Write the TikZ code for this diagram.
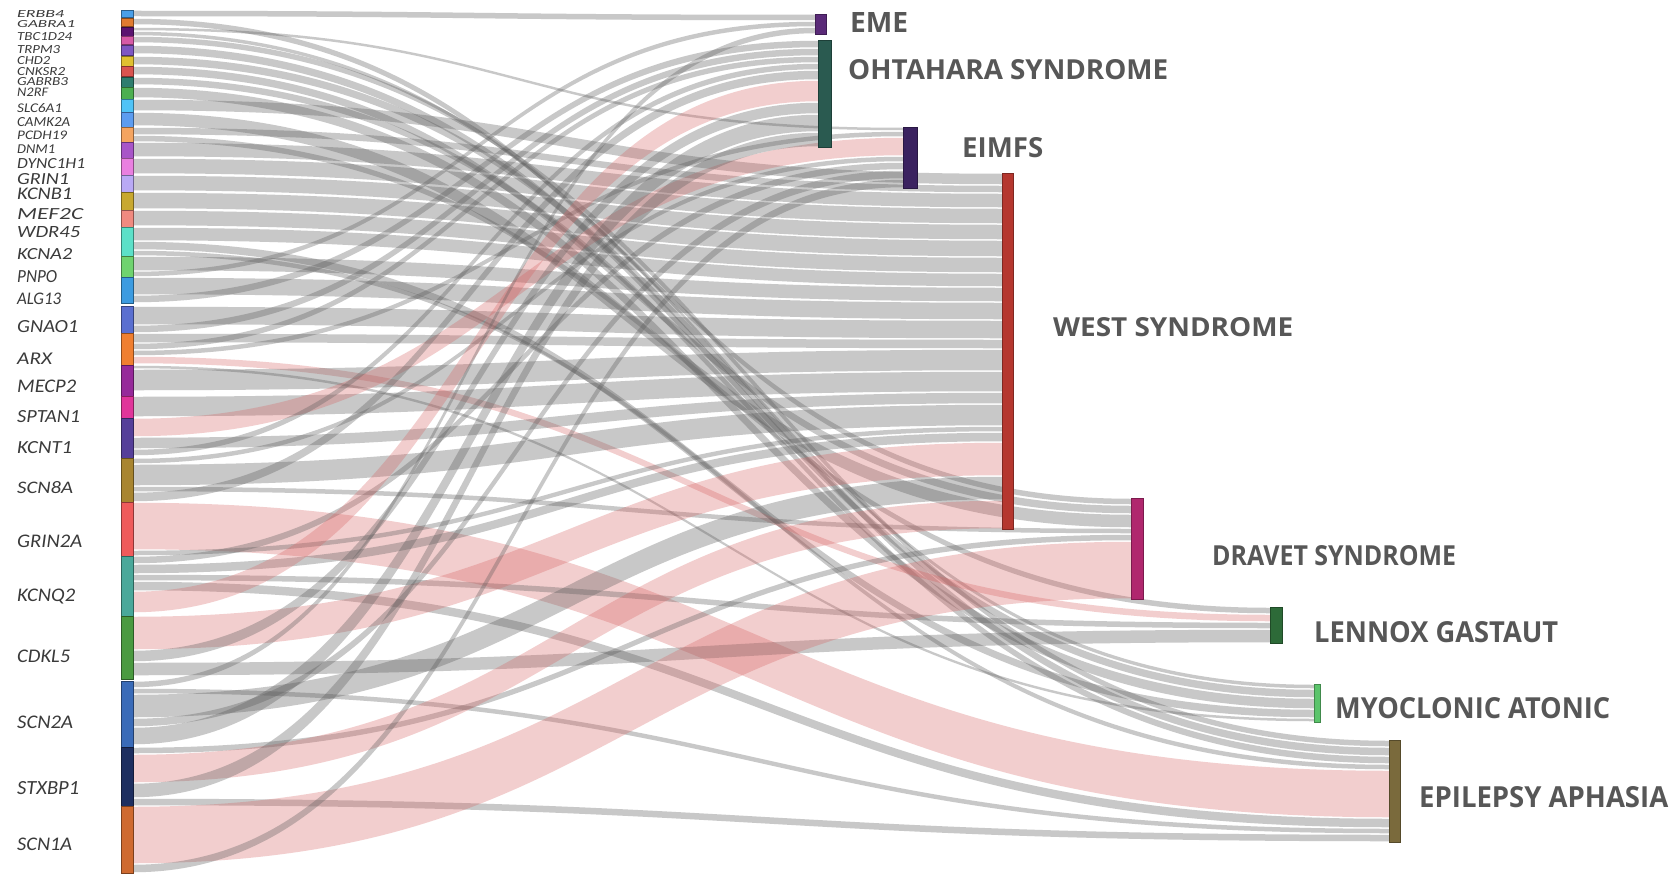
\documentclass[tikz,border=0pt]{standalone}
\usepackage{fontspec}
\usetikzlibrary{calc}
\newfontfamily\genefont{Carlito}
\newfontfamily\tgtfont{Open Sans}
\pgfdeclarelayer{bands}
\pgfsetlayers{bands,main}

% gene colours
\definecolor{cERBB4}{HTML}{4A9FE8}
\definecolor{cGABRA1}{HTML}{E07B30}
\definecolor{cTBC1D24}{HTML}{5B1470}
\definecolor{cTRPM3}{HTML}{D65AA6}
\definecolor{cCHD2}{HTML}{7E57C2}
\definecolor{cCNKSR2}{HTML}{E0C030}
\definecolor{cGABRB3}{HTML}{D9534F}
\definecolor{cN2RF}{HTML}{2E7D6E}
\definecolor{cSLC6A1}{HTML}{4CAF50}
\definecolor{cCAMK2A}{HTML}{4FC3F7}
\definecolor{cPCDH19}{HTML}{5C9CF0}
\definecolor{cDNM1}{HTML}{F4A460}
\definecolor{cDYNC1H1}{HTML}{A855C8}
\definecolor{cGRIN1}{HTML}{E97FE0}
\definecolor{cKCNB1}{HTML}{B9A9F5}
\definecolor{cMEF2C}{HTML}{C8A830}
\definecolor{cWDR45}{HTML}{F08A80}
\definecolor{cKCNA2}{HTML}{5CE0C8}
\definecolor{cPNPO}{HTML}{6FD36F}
\definecolor{cALG13}{HTML}{3C9BE0}
\definecolor{cGNAO1}{HTML}{5A6FD0}
\definecolor{cARX}{HTML}{F07F30}
\definecolor{cMECP2}{HTML}{962A9A}
\definecolor{cSPTAN1}{HTML}{E0359A}
\definecolor{cKCNT1}{HTML}{553F99}
\definecolor{cSCN8A}{HTML}{A88530}
\definecolor{cGRIN2A}{HTML}{EF5B5B}
\definecolor{cKCNQ2}{HTML}{4AA89A}
\definecolor{cCDKL5}{HTML}{4A9A40}
\definecolor{cSCN2A}{HTML}{3A6BB8}
\definecolor{cSTXBP1}{HTML}{1E2F60}
\definecolor{cSCN1A}{HTML}{CF6A30}
% syndrome colours
\definecolor{cEME}{HTML}{5A2A78}
\definecolor{cOHT}{HTML}{2A5A50}
\definecolor{cEIMFS}{HTML}{3B2260}
\definecolor{cWEST}{HTML}{B5372F}
\definecolor{cDRAVET}{HTML}{B0276E}
\definecolor{cLGS}{HTML}{2D6A38}
\definecolor{cMAE}{HTML}{5BC46B}
\definecolor{cEAP}{HTML}{7A6A3C}
% bands and text
\definecolor{bandgray}{RGB}{90,90,90}
\definecolor{bandpink}{RGB}{215,95,95}
\definecolor{labelgray}{HTML}{3A3A3A}
\definecolor{titlegray}{HTML}{575757}

\tikzset{
  gbar/.style={rectangle, minimum width=12pt, inner sep=0pt, outer sep=0pt, line width=0.6pt},
  tbar/.style={rectangle, inner sep=0pt, outer sep=0pt, line width=0.8pt},
  glabel/.style={anchor=base west, inner sep=0pt, text=labelgray, font=\genefont\itshape},
  tlabel/.style={anchor=base west, inner sep=0pt, text=titlegray, font=\tgtfont\bfseries},
  grayband/.style={fill=bandgray, fill opacity=0.33},
  pinkband/.style={fill=bandpink, fill opacity=0.3}
}

% gene bar with its label: name, top, height, colour, label baseline, label width, label height
\newcommand\gene[7]{%
  \node[gbar, fill=#4, draw=#4!60!black, minimum height=#3pt, anchor=north west] (#1) at (121,#2) {};
  \node[glabel] (#1-name) at (17,#5) {\resizebox{#6pt}{#7pt}{#1}};
  \expandafter\xdef\csname oS#1\endcsname{0}}

% syndrome bar: name, left, top, width, height, colour
\newcommand\tgt[6]{%
  \node[tbar, fill=#6, draw=#6!70!black, minimum width=#4pt, minimum height=#5pt, anchor=north west] (#1) at (#2,#3) {};
  \expandafter\xdef\csname oT#1\endcsname{0}}

% flow band from a gene bar to a syndrome bar, stacked on both ends
\newcommand\lk[4]{%
  \edef\sA{\csname oS#1\endcsname}%
  \edef\tA{\csname oT#2\endcsname}%
  \pgfmathsetmacro\sB{\sA+#3}%
  \pgfmathsetmacro\tB{\tA+#3}%
  \expandafter\xdef\csname oS#1\endcsname{\sB}%
  \expandafter\xdef\csname oT#2\endcsname{\tB}%
  \pgfmathsetmacro\su{\sA+0.75}\pgfmathsetmacro\sd{\sB-0.75}%
  \pgfmathsetmacro\tu{\tA+0.75}\pgfmathsetmacro\td{\tB-0.75}%
  \path ([yshift=-\su pt]#1.north east) coordinate (u1)
        ([yshift=-\sd pt]#1.north east) coordinate (d1)
        ([yshift=-\tu pt]#2.north west) coordinate (u2)
        ([yshift=-\td pt]#2.north west) coordinate (d2)
        ($(u1)!0.5!(u2)$) coordinate (mm);
  \fill[#4] (u1) .. controls (mm |- u1) and (mm |- u2) .. (u2)
     -- (d2) .. controls (mm |- d2) and (mm |- d1) .. (d1) -- cycle;}

\begin{document}
\begin{tikzpicture}[x=1pt,y=-1pt]
\useasboundingbox (0,0) rectangle (1675,875);

% genes
\gene{ERBB4}{10}{7}{cERBB4}{18}{47}{7}
\gene{GABRA1}{18}{8}{cGABRA1}{28}{58}{7}
\gene{TBC1D24}{27}{9}{cTBC1D24}{40.5}{55}{8}
\gene{TRPM3}{36}{8}{cTRPM3}{53}{43}{8}
\gene{CHD2}{45}{10}{cCHD2}{64}{33}{8}
\gene{CNKSR2}{56}{10}{cCNKSR2}{75}{48}{8}
\gene{GABRB3}{66}{10}{cGABRB3}{85.5}{51}{8}
\gene{N2RF}{77}{10}{cN2RF}{96.5}{31}{8.5}
\gene{SLC6A1}{87}{12}{cSLC6A1}{112}{45}{9}
\gene{CAMK2A}{99}{13}{cCAMK2A}{126}{53}{9}
\gene{PCDH19}{112}{15}{cPCDH19}{139}{50}{8.5}
\gene{DNM1}{127}{15}{cDNM1}{153}{38}{8.7}
\gene{DYNC1H1}{142}{16}{cDYNC1H1}{168}{68}{10}
\gene{GRIN1}{158}{17}{cGRIN1}{184}{52}{11}
\gene{KCNB1}{175}{17}{cKCNB1}{199.5}{55}{11.5}
\gene{MEF2C}{192}{18}{cMEF2C}{219}{66}{11}
\gene{WDR45}{210}{17}{cWDR45}{237}{63}{11}
\gene{KCNA2}{227}{29}{cKCNA2}{259}{55}{11}
\gene{PNPO}{256}{21}{cPNPO}{282}{40}{12}
\gene{ALG13}{277}{26}{cALG13}{304}{44}{11.5}
\gene{GNAO1}{306}{27}{cGNAO1}{332}{61}{12}
\gene{ARX}{333}{32}{cARX}{364}{35}{11.5}
\gene{MECP2}{365}{31}{cMECP2}{392}{59}{12.5}
\gene{SPTAN1}{396}{22}{cSPTAN1}{422}{63}{12}
\gene{KCNT1}{418}{40}{cKCNT1}{453}{55}{12}
\gene{SCN8A}{458}{44}{cSCN8A}{493}{56}{12}
\gene{GRIN2A}{502}{54}{cGRIN2A}{547}{65}{12.5}
\gene{KCNQ2}{556}{60}{cKCNQ2}{601}{58}{12.5}
\gene{CDKL5}{616}{63}{cCDKL5}{662}{53}{12.5}
\gene{SCN2A}{681}{66}{cSCN2A}{728}{56}{12.5}
\gene{STXBP1}{747}{59}{cSTXBP1}{794}{62}{13}
\gene{SCN1A}{806}{67}{cSCN1A}{850}{55}{12.5}

% syndromes
\tgt{EME}{815}{14}{11}{20}{cEME}
\tgt{OHT}{818}{40}{13}{107}{cOHT}
\tgt{EIMFS}{903}{127}{14}{61}{cEIMFS}
\tgt{WEST}{1002}{173}{11}{356}{cWEST}
\tgt{DRAVET}{1131}{498}{12}{101}{cDRAVET}
\tgt{LGS}{1270}{607}{12}{36}{cLGS}
\tgt{MAE}{1314}{684}{6}{38}{cMAE}
\tgt{EAP}{1389}{740}{11}{102}{cEAP}

\node[tlabel] (EME-name) at (850,33) {\resizebox{58pt}{20pt}{EME}};
\node[tlabel] (OHT-name) at (848,80) {\resizebox{320pt}{20pt}{OHTAHARA SYNDROME}};
\node[tlabel] (EIMFS-name) at (962,157) {\resizebox{81pt}{20pt}{EIMFS}};
\node[tlabel] (WEST-name) at (1053,336) {\resizebox{240pt}{19pt}{WEST SYNDROME}};
\node[tlabel] (DRAVET-name) at (1212,565) {\resizebox{244pt}{20pt}{DRAVET SYNDROME}};
\node[tlabel] (LGS-name) at (1314,642) {\resizebox{244pt}{21pt}{LENNOX GASTAUT}};
\node[tlabel] (MAE-name) at (1335,718) {\resizebox{275pt}{21pt}{MYOCLONIC ATONIC}};
\node[tlabel] (EAP-name) at (1419,807) {\resizebox{249pt}{21pt}{EPILEPSY APHASIA}};

\begin{pgfonlayer}{bands}
\fill[white] (0,0) rectangle (1675,875);
\lk{ERBB4}{EME}{7}{grayband}
\lk{GABRA1}{DRAVET}{7}{grayband}
\lk{TBC1D24}{EIMFS}{4}{grayband}
\lk{TBC1D24}{MAE}{5}{grayband}
\lk{TRPM3}{EAP}{7}{grayband}
\lk{CHD2}{MAE}{9}{grayband}
\lk{CNKSR2}{EAP}{9}{grayband}
\lk{GABRB3}{DRAVET}{9}{grayband}
\lk{N2RF}{EAP}{8}{grayband}
\lk{SLC6A1}{MAE}{11}{grayband}
\lk{CAMK2A}{WEST}{12}{grayband}
\lk{PCDH19}{DRAVET}{14}{grayband}
\lk{DNM1}{WEST}{8}{grayband}
\lk{DNM1}{LGS}{7}{grayband}
\lk{DYNC1H1}{WEST}{15}{grayband}
\lk{GRIN1}{WEST}{16}{grayband}
\lk{KCNB1}{WEST}{16}{grayband}
\lk{MEF2C}{WEST}{17}{grayband}
\lk{WDR45}{WEST}{16}{grayband}
\lk{KCNA2}{WEST}{14}{grayband}
\lk{KCNA2}{MAE}{9}{grayband}
\lk{KCNA2}{EAP}{6}{grayband}
\lk{PNPO}{WEST}{15}{grayband}
\lk{PNPO}{EME}{6}{grayband}
\lk{ALG13}{WEST}{18}{grayband}
\lk{ALG13}{OHT}{8}{grayband}
\lk{GNAO1}{WEST}{19}{grayband}
\lk{GNAO1}{OHT}{8}{grayband}
\lk{ARX}{WEST}{10}{grayband}
\lk{ARX}{OHT}{7}{grayband}
\lk{ARX}{EIMFS}{6}{grayband}
\lk{ARX}{LGS}{8}{pinkband}
\lk{MECP2}{MAE}{4}{grayband}
\lk{MECP2}{WEST}{22}{grayband}
\lk{SPTAN1}{WEST}{21}{grayband}
\lk{KCNT1}{EIMFS}{19}{pinkband}
\lk{KCNT1}{WEST}{12}{grayband}
\lk{KCNT1}{OHT}{7}{grayband}
\lk{SCN8A}{EIMFS}{6}{grayband}
\lk{SCN8A}{WEST}{22}{grayband}
\lk{SCN8A}{DRAVET}{6}{grayband}
\lk{SCN8A}{OHT}{10}{grayband}
\lk{GRIN2A}{EAP}{48}{pinkband}
\lk{GRIN2A}{WEST}{6}{grayband}
\lk{KCNQ2}{EIMFS}{8}{grayband}
\lk{KCNQ2}{WEST}{10}{grayband}
\lk{KCNQ2}{LGS}{7}{grayband}
\lk{KCNQ2}{EAP}{10}{grayband}
\lk{KCNQ2}{OHT}{22}{pinkband}
\lk{CDKL5}{WEST}{34}{pinkband}
\lk{CDKL5}{OHT}{12}{grayband}
\lk{CDKL5}{LGS}{14}{grayband}
\lk{SCN2A}{EME}{7}{grayband}
\lk{SCN2A}{EAP}{6}{grayband}
\lk{SCN2A}{WEST}{24}{grayband}
\lk{SCN2A}{EIMFS}{9}{grayband}
\lk{SCN2A}{OHT}{18}{grayband}
\lk{STXBP1}{DRAVET}{7}{grayband}
\lk{STXBP1}{WEST}{29}{pinkband}
\lk{STXBP1}{OHT}{15}{grayband}
\lk{STXBP1}{EAP}{8}{grayband}
\lk{SCN1A}{DRAVET}{58}{pinkband}
\lk{SCN1A}{EIMFS}{9}{grayband}
\end{pgfonlayer}
\end{tikzpicture}
\end{document}
